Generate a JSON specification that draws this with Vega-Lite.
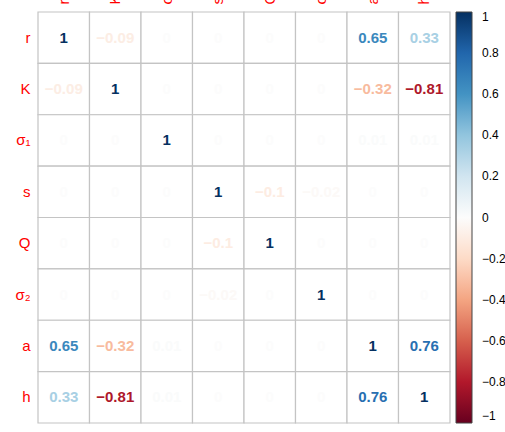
{
  "$schema": "https://vega.github.io/schema/vega-lite/v6.json",
  "autosize": "none",
  "width": 412,
  "height": 411,
  "padding": {"left": 38, "top": 12, "right": 55, "bottom": 9},
  "background": "white",
  "config": {"view": {"stroke": null}, "font": "Liberation Sans"},
  "data": {"values": [
    {"row": "r", "col": "r", "value": 1}, {"row": "r", "col": "K", "value": -0.09}, {"row": "r", "col": "σ₁", "value": 0}, {"row": "r", "col": "s", "value": 0}, {"row": "r", "col": "Q", "value": 0}, {"row": "r", "col": "σ₂", "value": 0}, {"row": "r", "col": "a", "value": 0.65}, {"row": "r", "col": "h", "value": 0.33},
    {"row": "K", "col": "r", "value": -0.09}, {"row": "K", "col": "K", "value": 1}, {"row": "K", "col": "σ₁", "value": 0}, {"row": "K", "col": "s", "value": 0}, {"row": "K", "col": "Q", "value": 0}, {"row": "K", "col": "σ₂", "value": 0}, {"row": "K", "col": "a", "value": -0.32}, {"row": "K", "col": "h", "value": -0.81},
    {"row": "σ₁", "col": "r", "value": 0}, {"row": "σ₁", "col": "K", "value": 0}, {"row": "σ₁", "col": "σ₁", "value": 1}, {"row": "σ₁", "col": "s", "value": 0}, {"row": "σ₁", "col": "Q", "value": 0}, {"row": "σ₁", "col": "σ₂", "value": 0}, {"row": "σ₁", "col": "a", "value": 0.01}, {"row": "σ₁", "col": "h", "value": 0.01},
    {"row": "s", "col": "r", "value": 0}, {"row": "s", "col": "K", "value": 0}, {"row": "s", "col": "σ₁", "value": 0}, {"row": "s", "col": "s", "value": 1}, {"row": "s", "col": "Q", "value": -0.1}, {"row": "s", "col": "σ₂", "value": -0.02}, {"row": "s", "col": "a", "value": 0}, {"row": "s", "col": "h", "value": 0},
    {"row": "Q", "col": "r", "value": 0}, {"row": "Q", "col": "K", "value": 0}, {"row": "Q", "col": "σ₁", "value": 0}, {"row": "Q", "col": "s", "value": -0.1}, {"row": "Q", "col": "Q", "value": 1}, {"row": "Q", "col": "σ₂", "value": 0}, {"row": "Q", "col": "a", "value": 0}, {"row": "Q", "col": "h", "value": 0},
    {"row": "σ₂", "col": "r", "value": 0}, {"row": "σ₂", "col": "K", "value": 0}, {"row": "σ₂", "col": "σ₁", "value": 0}, {"row": "σ₂", "col": "s", "value": -0.02}, {"row": "σ₂", "col": "Q", "value": 0}, {"row": "σ₂", "col": "σ₂", "value": 1}, {"row": "σ₂", "col": "a", "value": 0}, {"row": "σ₂", "col": "h", "value": 0},
    {"row": "a", "col": "r", "value": 0.65}, {"row": "a", "col": "K", "value": -0.32}, {"row": "a", "col": "σ₁", "value": 0.01}, {"row": "a", "col": "s", "value": 0}, {"row": "a", "col": "Q", "value": 0}, {"row": "a", "col": "σ₂", "value": 0}, {"row": "a", "col": "a", "value": 1}, {"row": "a", "col": "h", "value": 0.76},
    {"row": "h", "col": "r", "value": 0.33}, {"row": "h", "col": "K", "value": -0.81}, {"row": "h", "col": "σ₁", "value": 0.01}, {"row": "h", "col": "s", "value": 0}, {"row": "h", "col": "Q", "value": 0}, {"row": "h", "col": "σ₂", "value": 0}, {"row": "h", "col": "a", "value": 0.76}, {"row": "h", "col": "h", "value": 1}
  ]},
  "encoding": {
    "x": {"field": "col", "type": "nominal", "sort": ["r", "K", "σ₁", "s", "Q", "σ₂", "a", "h"],
      "scale": {"paddingInner": 0, "paddingOuter": 0},
      "axis": {"orient": "top", "title": null, "domain": false, "ticks": false, "labelAngle": 270, "labelAlign": "left", "labelBaseline": "middle", "labelPadding": 8, "labelColor": "#FF0000", "labelFontSize": 15, "labelFont": "Liberation Sans"}},
    "y": {"field": "row", "type": "nominal", "sort": ["r", "K", "σ₁", "s", "Q", "σ₂", "a", "h"],
      "scale": {"paddingInner": 0, "paddingOuter": 0},
      "axis": {"title": null, "domain": false, "ticks": false, "labelPadding": 8, "labelColor": "#FF0000", "labelFontSize": 15, "labelFont": "Liberation Sans"}}
  },
  "layer": [
    {"mark": {"type": "rect", "fill": "white", "stroke": "#C4C4C4", "strokeWidth": 1.2}},
    {"mark": {"type": "text", "fontWeight": "bold", "fontSize": 15, "font": "Liberation Sans", "baseline": "middle", "align": "center"},
      "encoding": {
        "text": {"field": "value", "type": "quantitative", "format": ".2~f"},
        "color": {"field": "value", "type": "quantitative",
          "scale": {"domain": [-1, -0.8, -0.6, -0.4, -0.2, 0, 0.2, 0.4, 0.6, 0.8, 1],
            "range": ["#67001F", "#B2182B", "#D6604D", "#F4A582", "#FDDBC7", "#FCFCFC", "#D1E5F0", "#92C5DE", "#4393C3", "#2166AC", "#053061"],
            "interpolate": "rgb"},
          "legend": {"title": null, "orient": "right", "offset": 6, "padding": 0, "gradientLength": 411, "gradientThickness": 16,
            "gradientStrokeColor": "#444", "gradientStrokeWidth": 1,
            "values": [-1, -0.8, -0.6, -0.4, -0.2, 0, 0.2, 0.4, 0.6, 0.8, 1], "format": ".1~f",
            "labelFontSize": 12, "labelFont": "Liberation Sans", "labelColor": "#000", "labelOffset": 10, "labelOverlap": false}}
      }}
  ]
}
